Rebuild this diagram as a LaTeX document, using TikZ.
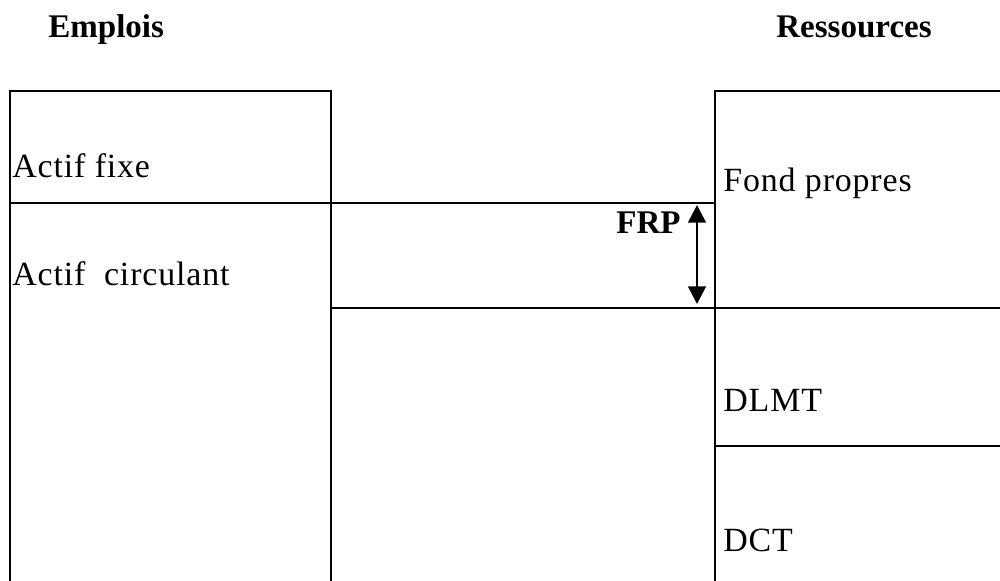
\documentclass[tikz,border=0pt]{standalone}
\usepackage{fontspec}
\setmainfont{Liberation Serif}
\usetikzlibrary{arrows.meta}
\begin{document}
\begin{tikzpicture}[x=0.02cm,y=-0.02cm,
  frame/.style={line width=1.3pt, line cap=rect},
  lbl/.style={anchor=base west, inner sep=0pt, font=\fontsize{19.3}{22}\selectfont\addfontfeature{LetterSpace=2.5}},
  hdr/.style={anchor=base west, inner sep=0pt, font=\fontsize{18.8}{22}\selectfont\bfseries},
  dbl/.style={line width=1.5pt, {Triangle[width=10pt,length=10pt]}-{Triangle[width=10pt,length=10pt]}}]
\useasboundingbox (0,0) rectangle (1000,581);
% frames
\draw[frame] (10,581) -- (10,91) -- (331,91) -- (331,581);
\draw[frame] (10,203) -- (715,203);
\draw[frame] (331,308) -- (1000,308);
\draw[frame] (1000,91) -- (715,91) -- (715,581);
\draw[frame] (715,446) -- (1000,446);
% headers
\node[hdr] (emp) at (48,38) {Emplois};
\node[hdr] (res) at (776,38) {Ressources};
% labels
\node[lbl] (af) at (12,177) {Actif fixe};
\node[lbl] (ac) at (12,285) {Actif\ \ circulant};
\node[lbl] (fp) at (723,191) {Fond propres};
\node[lbl] (dl) at (723,411) {DLMT};
\node[lbl] (dc) at (723,551) {DCT};
\node[hdr, anchor=base east] (frp) at (681,233) {FRP};
% arrow
\coordinate (ft) at (697,205);
\coordinate (fb) at (697,304);
\draw[dbl] (ft) -- (fb);
\end{tikzpicture}
\end{document}
